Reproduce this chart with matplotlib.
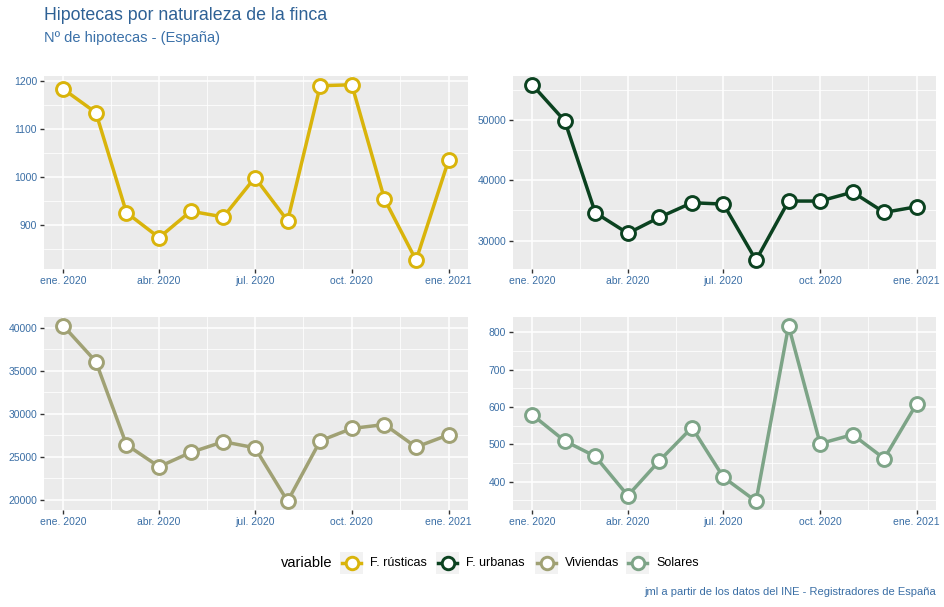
import matplotlib
matplotlib.use("Agg")
import matplotlib.pyplot as plt
import matplotlib.dates as mdates
from matplotlib.lines import Line2D
from matplotlib.patches import Rectangle
import datetime as dt

plt.rcParams['font.family'] = ['Liberation Sans', 'DejaVu Sans']

months = [dt.date(2020, m, 1) for m in range(1, 13)] + [dt.date(2021, 1, 1)]
series_names = ["F. rústicas", "F. urbanas", "Viviendas", "Solares"]
rusticas = [1183, 1134, 926, 874, 929, 917, 999, 909, 1190, 1192, 954, 827, 1036]
urbanas = [55840, 49835, 34630, 31210, 33860, 36280, 36060, 26750, 36560, 36560, 38040, 34680, 35620]
viviendas = [40230, 36060, 26410, 23860, 25520, 26760, 26060, 19850, 26870, 28300, 28760, 26140, 27570]
solares = [579, 509, 468, 363, 456, 545, 412, 348, 817, 502, 526, 462, 609]
colors = ["#D9B40B", "#0B4220", "#A0A174", "#7DA487"]
yticks = [[900, 1000, 1100, 1200], [30000, 40000, 50000],
          [20000, 25000, 30000, 35000, 40000], [400, 500, 600, 700, 800]]
xtick_dates = [dt.date(2020, 1, 1), dt.date(2020, 4, 1), dt.date(2020, 7, 1),
               dt.date(2020, 10, 1), dt.date(2021, 1, 1)]
xtick_labels = ["ene. 2020", "abr. 2020", "jul. 2020", "oct. 2020", "ene. 2021"]

data = [rusticas, urbanas, viviendas, solares]

W, H = 944, 607
fig = plt.figure(figsize=(W / 100, H / 100), dpi=100)


def fx(px):
    return px / W


def fy(py):
    return 1 - py / H


boxes = [(44, 76, 468, 269), (513, 76, 936, 269), (44, 317, 468, 510), (513, 317, 936, 510)]
label_col = "#3A6EA5"
xnum = mdates.date2num(months)
x0, x1 = xnum[0], xnum[-1]
xr = x1 - x0
major = mdates.date2num(xtick_dates)
minor = (major[:-1] + major[1:]) / 2

LW = 2.5
MS = 10
MEW = 2.1

for vals, col, yt, box in zip(data, colors, yticks, boxes):
    l, t, r, b = box
    ax = fig.add_axes([fx(l), fy(b), (r - l) / W, (b - t) / H])
    ax.set_facecolor("#EBEBEB")
    for s in ax.spines.values():
        s.set_visible(False)
    ax.plot(xnum, vals, color=col, lw=LW, zorder=3, solid_joinstyle='round')
    ax.plot(xnum, vals, 'o', ms=MS, mfc='white', mec=col, mew=MEW, zorder=4)
    vmin, vmax = min(vals), max(vals)
    e = (vmax - vmin) * 0.05
    ax.set_xlim(x0 - xr * 0.05, x1 + xr * 0.05)
    ax.set_yticks(yt)
    ax.set_yticklabels([str(v) for v in yt])
    step = yt[1] - yt[0]
    ymin_ticks = [yt[0] - step / 2] + [v + step / 2 for v in yt]
    ax.set_yticks(ymin_ticks, minor=True)
    ax.set_xticks(major)
    ax.set_xticklabels(xtick_labels)
    ax.set_xticks(minor, minor=True)
    ax.grid(which='major', color='white', lw=1.1, zorder=0)
    ax.grid(which='minor', color='white', lw=0.55, zorder=0)
    ax.set_axisbelow(True)
    ax.tick_params(which='major', length=3, width=1, color='#333333',
                   labelsize=7.5, labelcolor=label_col, pad=2)
    ax.tick_params(which='minor', length=0)
    ax.set_ylim(vmin - e, vmax + e)

fig.text(fx(44), fy(15), "Hipotecas por naturaleza de la finca", fontsize=12.8,
         color="#2E6195", va='center', ha='left')
fig.text(fx(44), fy(38), "Nº de hipotecas - (España)", fontsize=10.5,
         color="#3A70A8", va='center', ha='left')

# legend (drawn manually, ggplot-style)
ly = 563
fig.text(fx(281), fy(ly), "variable", fontsize=10.5, color="black", ha='left', va='center')
key_x = [340, 436, 535, 626]
for kx, col, name in zip(key_x, colors, series_names):
    fig.add_artist(Rectangle((fx(kx), fy(ly + 11)), 23 / W, 22 / H,
                             transform=fig.transFigure, facecolor="#F2F2F2",
                             edgecolor='none'))
    fig.add_artist(Line2D([fx(kx + 2), fx(kx + 21)], [fy(ly), fy(ly)],
                          transform=fig.transFigure, color=col, lw=LW))
    fig.add_artist(Line2D([fx(kx + 11.5)], [fy(ly)], transform=fig.transFigure,
                          marker='o', ms=MS - 1, mfc='white', mec=col, mew=MEW))
    fig.text(fx(kx + 30), fy(ly), name, fontsize=9, color="black", ha='left', va='center')

fig.text(fx(936), fy(592), "jml a partir de los datos del INE - Registradores de España",
         fontsize=8, color="#3A6EA5", ha='right', va='center')

fig.savefig("out.png", dpi=100)
